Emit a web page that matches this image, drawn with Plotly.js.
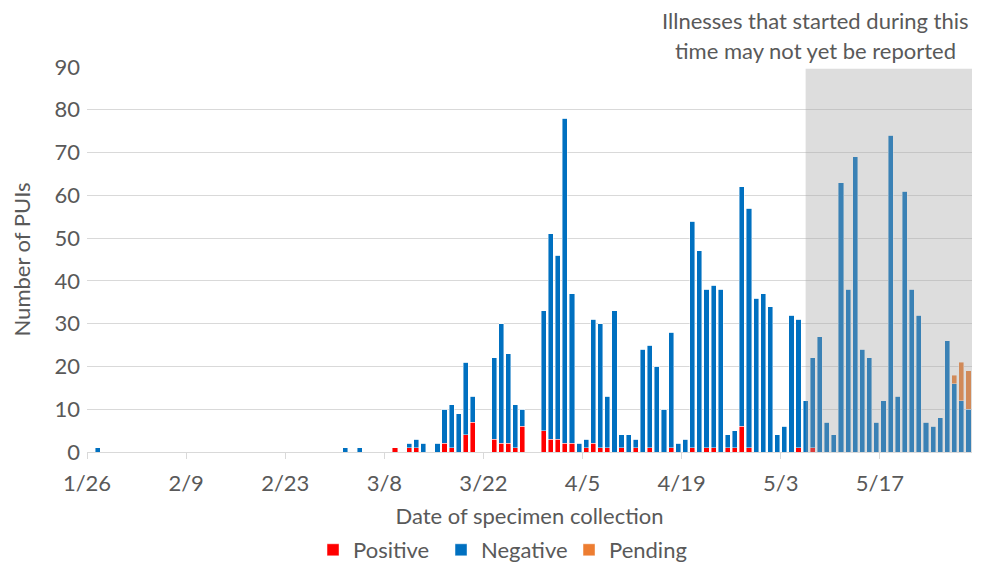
<!DOCTYPE html>
<html>
<head>
<meta charset="utf-8">
<script src="https://cdn.plot.ly/plotly-3.0.1.min.js"></script>
<style>html,body{margin:0;padding:0;background:#fff;}#chart{width:988px;height:573px;}</style>
</head>
<body>
<div id="chart"></div>
<script>
const dates = ["2020-01-27","2020-03-02","2020-03-04","2020-03-09","2020-03-11","2020-03-12","2020-03-13","2020-03-15","2020-03-16","2020-03-17","2020-03-18","2020-03-19","2020-03-20","2020-03-23","2020-03-24","2020-03-25","2020-03-26","2020-03-27","2020-03-30","2020-03-31","2020-04-01","2020-04-02","2020-04-03","2020-04-04","2020-04-05","2020-04-06","2020-04-07","2020-04-08","2020-04-09","2020-04-10","2020-04-11","2020-04-12","2020-04-13","2020-04-14","2020-04-15","2020-04-16","2020-04-17","2020-04-18","2020-04-19","2020-04-20","2020-04-21","2020-04-22","2020-04-23","2020-04-24","2020-04-25","2020-04-26","2020-04-27","2020-04-28","2020-04-29","2020-04-30","2020-05-01","2020-05-02","2020-05-03","2020-05-04","2020-05-05","2020-05-06","2020-05-07","2020-05-08","2020-05-09","2020-05-10","2020-05-11","2020-05-12","2020-05-13","2020-05-14","2020-05-15","2020-05-16","2020-05-17","2020-05-18","2020-05-19","2020-05-20","2020-05-21","2020-05-22","2020-05-23","2020-05-24","2020-05-25","2020-05-26","2020-05-27","2020-05-28","2020-05-29"];
const positive = [0,0,0,1,1,1,0,0,2,1,0,4,7,3,2,2,1,6,5,3,3,2,2,0,1,2,1,1,0,1,0,1,0,1,0,0,1,0,0,1,0,1,1,0,1,1,6,1,0,0,0,0,0,0,1,0,1,0,0,0,0,0,0,0,0,0,0,0,0,0,0,0,0,0,0,0,0,0,0];
const negative = [1,1,1,0,1,2,2,2,8,10,9,17,6,19,28,21,10,4,28,48,43,76,35,2,2,29,29,12,33,3,4,2,24,24,20,10,27,2,3,53,47,37,38,38,3,4,56,56,36,37,34,4,6,32,30,12,21,27,7,4,63,38,69,24,22,7,12,74,13,61,38,32,7,6,8,26,16,12,10];
const pending = [0,0,0,0,0,0,0,0,0,0,0,0,0,0,0,0,0,0,0,0,0,0,0,0,0,0,0,0,0,0,0,0,0,0,0,0,0,0,0,0,0,0,0,0,0,0,0,0,0,0,0,0,0,0,0,0,0,0,0,0,0,0,0,0,0,0,0,0,0,0,0,0,0,0,0,0,2,9,9];
const tickDates = ["2020-01-26","2020-02-09","2020-02-23","2020-03-08","2020-03-22","2020-04-05","2020-04-19","2020-05-03","2020-05-17"];
const tickLabels = ["1/26","2/9","2/23","3/8","3/22","4/5","4/19","5/3","5/17"];
const axisRange = ["2020-01-26","2020-05-30"];
const shadeStart = "2020-05-06 12:00";
const shadeEnd = "2020-05-30";
const noteLines = ["Illnesses that started during this","time may not yet be reported"];

const DAY = 86400000;
const FONT = "Lato, 'Open Sans', sans-serif";
const FS = 22;
const TXT = "#595959";
const barLine = {color: "rgba(255,255,255,0.55)", width: 0.8};
function mk(name, y, color){
  return {type:"bar", name:name, x:dates, y:y, xperiod:DAY, xperiodalignment:"middle",
    width:0.72*DAY, marker:{color:color, line:barLine}, hoverinfo:"x+y+name"};
}
const data = [mk("Positive", positive, "#ff0000"), mk("Negative", negative, "#0070c0"), mk("Pending", pending, "#ed7d31")];

const layout = {
  width:988, height:573,
  margin:{l:87, r:16, t:67, b:121},
  paper_bgcolor:"#fff", plot_bgcolor:"#fff",
  barmode:"stack", bargap:0,
  font:{family:FONT, size:FS, color:TXT},
  showlegend:true,
  legend:{orientation:"h", xref:"paper", x:0.2554, xanchor:"left", yref:"container", y:2/573, yanchor:"bottom",
    font:{size:FS, color:TXT}, traceorder:"normal", itemwidth:30, entrywidth:83, entrywidthmode:"pixels"},
  xaxis:{type:"date", range:axisRange, tickmode:"array", tickvals:tickDates, ticktext:tickLabels, automargin:false,
    ticks:"outside", ticklen:6, tickcolor:"#d9d9d9", tickwidth:1, ticklabelshift:3.5, ticklabelstandoff:6,
    showgrid:false, showline:true, linecolor:"#d9d9d9", linewidth:1, zeroline:false,
    tickfont:{size:FS, color:TXT},
    title:{text:"Date of specimen collection", font:{size:FS, color:TXT}, standoff:16}},
  yaxis:{range:[0,90], tickmode:"linear", tick0:0, dtick:10, showgrid:true, gridcolor:"#d9d9d9", gridwidth:1, automargin:false,
    zeroline:false, showline:false, ticks:"", ticklabelstandoff:6, tickfont:{size:FS, color:TXT},
    title:{text:"Number of PUIs", font:{size:FS, color:TXT}, standoff:17}},
  shapes:[{type:"rect", xref:"x", yref:"y", x0:shadeStart, x1:shadeEnd, y0:0, y1:89.6,
    fillcolor:"rgba(160,160,160,0.36)", line:{width:0}, layer:"above"}],
  annotations:[
    {xref:"paper", yref:"paper", x:0.823, y:1+47/385, xanchor:"center", yanchor:"middle", showarrow:false, text:noteLines[0], font:{size:FS, color:TXT}},
    {xref:"paper", yref:"paper", x:0.823, y:1+17/385, xanchor:"center", yanchor:"middle", showarrow:false, text:noteLines[1], font:{size:FS, color:TXT}}
  ]
};
Plotly.newPlot("chart", data, layout, {displayModeBar:false, staticPlot:true});
</script>
</body>
</html>
